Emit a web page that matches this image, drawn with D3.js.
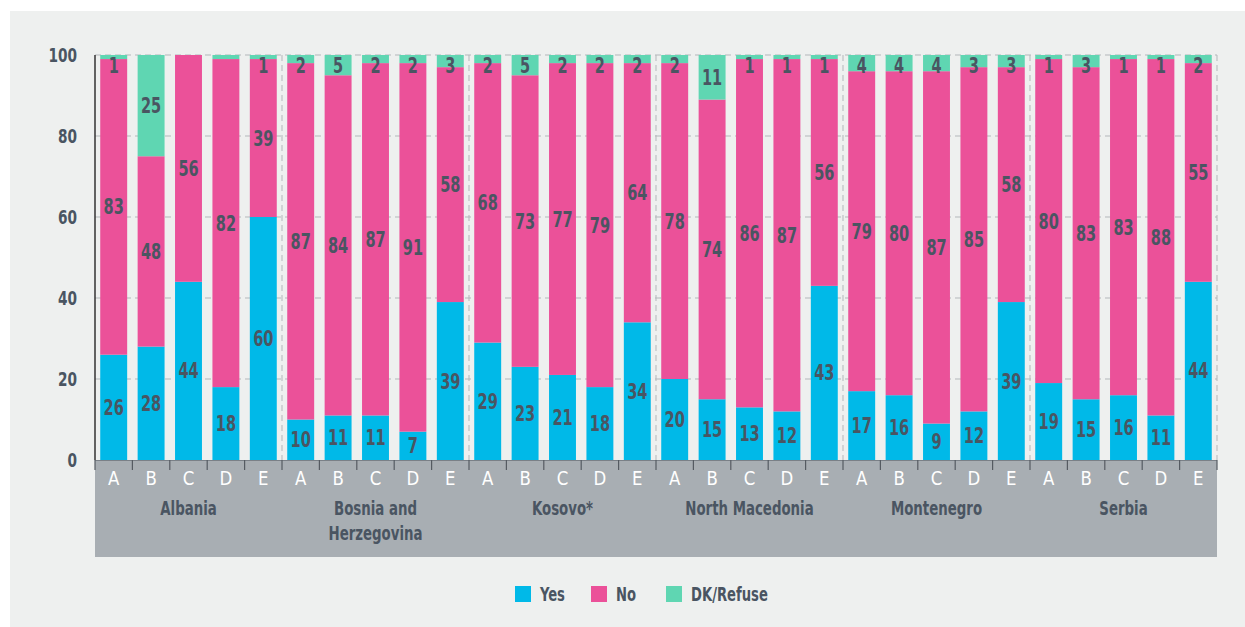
<!DOCTYPE html>
<html>
<head>
<meta charset="utf-8">
<script src="https://cdn.jsdelivr.net/npm/d3@7"></script>
<style>
	body { margin: 0; background: #fff; }
	svg text { font-family: "Liberation Sans Narrow", "DejaVu Sans Condensed", "Arial Narrow", sans-serif; }
</style>
</head>
<body>
<svg width="1245" height="627"></svg>
<script>
// chart data
var countries = ["Albania", "Bosnia and Herzegovina", "Kosovo*", "North Macedonia", "Montenegro", "Serbia"];
var letters = ["A", "B", "C", "D", "E"];
var yesVals = [26, 28, 44, 18, 60,  10, 11, 11, 7, 39,  29, 23, 21, 18, 34,  20, 15, 13, 12, 43,  17, 16, 9, 12, 39,  19, 15, 16, 11, 44];
var noVals  = [83, 48, 56, 82, 39,  87, 84, 87, 91, 58,  68, 73, 77, 79, 64,  78, 74, 86, 87, 56,  79, 80, 87, 85, 58,  80, 83, 83, 88, 55];
var dkVals  = [1, 25, 0, 1, 1,  2, 5, 2, 2, 3,  2, 5, 2, 2, 2,  2, 11, 1, 1, 1,  4, 4, 4, 3, 3,  1, 3, 1, 1, 2];
var unlabelled = ["Albania D"]; // sliver shown in source without a number
var yTicks = [0, 20, 40, 60, 80, 100];
var legendNames = ["Yes", "No", "DK/Refuse"];

var colors = { Yes: "#00b9e8", No: "#eb5199", "DK/Refuse": "#5fd6b2" };
var textCol = "#4a5562";

var rows = [];
countries.forEach(function(c, i) {
	letters.forEach(function(l, j) {
		var k = i * 5 + j;
		rows.push({ key: c + " " + l, country: c, letter: l, yes: yesVals[k], no: noVals[k], dk: dkVals[k] });
	});
});

// squeeze text sideways, the source uses a condensed face
function condense(sel, k) {
	sel.each(function() {
		var len = this.getComputedTextLength();
		d3.select(this).attr("textLength", len * k).attr("lengthAdjust", "spacingAndGlyphs");
	});
}

var svg = d3.select("svg");
svg.append("rect").attr("x", 10).attr("y", 11).attr("width", 1235).attr("height", 616).attr("fill", "#eef0ef");

var pLeft = 95, pRight = 1217, pTop = 55, pBottom = 460;
var x = d3.scaleBand().domain(rows.map(function(d) { return d.key; }))
	.range([pLeft, pRight]).paddingInner(0.28).paddingOuter(0.14);
var y = d3.scaleLinear().domain([0, 100]).range([pBottom, pTop]);
var gx = d3.scaleBand().domain(countries).range([pLeft, pRight]);

// grey band under the bars
svg.append("rect").attr("x", pLeft).attr("y", pBottom).attr("width", pRight - pLeft).attr("height", 97).attr("fill", "#a8aeb3");

// gridlines
svg.append("g").selectAll("line").data(yTicks.filter(function(d) { return d > 0; }))
	.enter().append("line")
	.attr("x1", pLeft).attr("x2", pRight)
	.attr("y1", function(d) { return y(d); }).attr("y2", function(d) { return y(d); })
	.attr("stroke", "#b3b7ba").attr("stroke-dasharray", "6,4");

// country separators
svg.append("g").selectAll("line").data(countries)
	.enter().append("line")
	.attr("x1", function(d) { return gx(d) + gx.bandwidth(); })
	.attr("x2", function(d) { return gx(d) + gx.bandwidth(); })
	.attr("y1", pTop).attr("y2", pBottom)
	.attr("stroke", "#b3b7ba").attr("stroke-dasharray", "6,4");

// bars: yes from the bottom, dk from the top, no fills the rest
var bars = svg.append("g");
bars.selectAll(".yes").data(rows).enter().append("rect")
	.attr("x", function(d) { return x(d.key); }).attr("width", x.bandwidth())
	.attr("y", function(d) { return y(d.yes); })
	.attr("height", function(d) { return pBottom - y(d.yes); })
	.attr("fill", colors.Yes);
bars.selectAll(".no").data(rows).enter().append("rect")
	.attr("x", function(d) { return x(d.key); }).attr("width", x.bandwidth())
	.attr("y", function(d) { return y(100 - d.dk); })
	.attr("height", function(d) { return y(d.yes) - y(100 - d.dk); })
	.attr("fill", colors.No);
bars.selectAll(".dk").data(rows).enter().append("rect")
	.attr("x", function(d) { return x(d.key); }).attr("width", x.bandwidth())
	.attr("y", y(100))
	.attr("height", function(d) { return y(100 - d.dk) - y(100); })
	.attr("fill", colors["DK/Refuse"]);

// value labels
function addLabels(field, pos) {
	var t = svg.append("g").selectAll("text")
		.data(rows.filter(function(d) { return d[field] > 0 && !(field == "dk" && unlabelled.indexOf(d.key) >= 0); }))
		.enter().append("text")
		.attr("x", function(d) { return x(d.key) + x.bandwidth() / 2; })
		.attr("y", pos)
		.attr("dy", "0.36em")
		.attr("text-anchor", "middle")
		.attr("font-size", "21px").attr("font-weight", "bold")
		.attr("fill", textCol)
		.text(function(d) { return d[field]; });
	condense(t, 0.77);
}
addLabels("yes", function(d) { return y(d.yes / 2); });
addLabels("no", function(d) { return y((d.yes + 100 - d.dk) / 2); });
addLabels("dk", function(d) { return Math.max(y(100 - d.dk / 2), 65); });

// y axis
svg.append("line").attr("x1", pLeft).attr("x2", pLeft).attr("y1", pTop).attr("y2", pBottom)
	.attr("stroke", "#333").attr("stroke-width", 1.5);
var yt = svg.append("g").selectAll("text").data(yTicks).enter().append("text")
	.attr("x", 77).attr("y", function(d) { return y(d); })
	.attr("dy", "0.36em").attr("text-anchor", "end")
	.attr("font-size", "20px").attr("font-weight", "bold").attr("fill", textCol)
	.text(function(d) { return d; });
condense(yt, 0.76);

// bottom ticks
var edges = rows.map(function(d) { return x(d.key) - x.step() * 0.14; }).concat([pRight]);
svg.append("line").attr("x1", pLeft).attr("x2", pRight).attr("y1", pBottom + 0.5).attr("y2", pBottom + 0.5)
	.attr("stroke", "#7a8087").attr("stroke-width", 1);
svg.append("g").selectAll("line").data(edges).enter().append("line")
	.attr("x1", function(d) { return d; }).attr("x2", function(d) { return d; })
	.attr("y1", pBottom).attr("y2", pBottom + 10)
	.attr("stroke", "#555b62").attr("stroke-width", 1.2);

// letters
var lt = svg.append("g").selectAll("text").data(rows).enter().append("text")
	.attr("x", function(d) { return x(d.key) + x.bandwidth() / 2; })
	.attr("y", 478).attr("dy", "0.36em").attr("text-anchor", "middle")
	.attr("font-size", "20px").attr("fill", "#fff")
	.text(function(d) { return d.letter; });
condense(lt, 0.92);

// country names
var cg = svg.append("g").selectAll("text").data(countries).enter().append("text")
	.attr("x", function(d) { return gx(d) + gx.bandwidth() / 2; })
	.attr("y", 508).attr("text-anchor", "middle")
	.attr("font-size", "19px").attr("font-weight", "bold").attr("fill", textCol);
cg.each(function(d) {
	var t = d3.select(this);
	var parts = d == "Bosnia and Herzegovina" ? ["Bosnia and", "Herzegovina"] : [d];
	parts.forEach(function(p, i) {
		t.append("tspan").attr("x", gx(d) + gx.bandwidth() / 2).attr("dy", i == 0 ? "0.36em" : "25px").text(p);
	});
});
condense(cg.selectAll("tspan"), 0.78);

// legend
var lx = [515, 591, 666];
var lg = svg.append("g").selectAll("g").data(legendNames).enter().append("g")
	.attr("transform", function(d, i) { return "translate(" + lx[i] + ",586)"; });
lg.append("rect").attr("width", 16).attr("height", 16).attr("fill", function(d) { return colors[d]; });
var ltx = lg.append("text").attr("x", 25).attr("y", 8).attr("dy", "0.36em")
	.attr("font-size", "19px").attr("font-weight", "bold").attr("fill", textCol)
	.text(function(d) { return d; });
condense(ltx, 0.77);
</script>
</body>
</html>
